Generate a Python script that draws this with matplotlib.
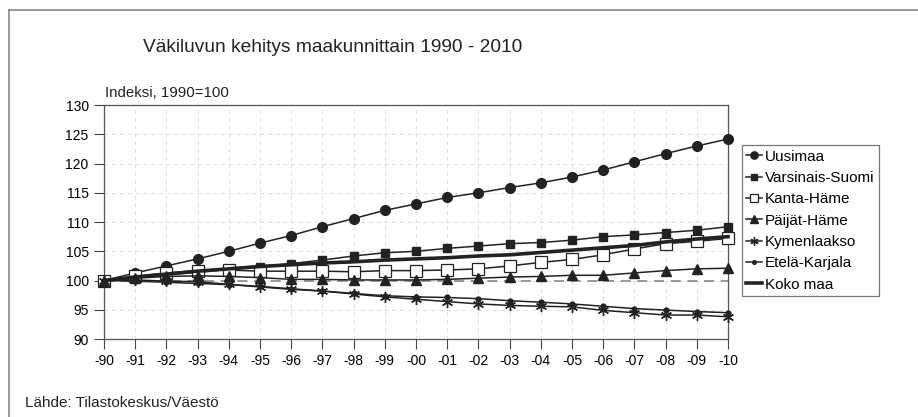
import numpy as np
import matplotlib
matplotlib.use('Agg')
import matplotlib.pyplot as plt
from matplotlib.lines import Line2D

plt.rcParams['font.family'] = ['Liberation Sans', 'DejaVu Sans']

# data (index, 1990=100)
years = ['-90', '-91', '-92', '-93', '-94', '-95', '-96', '-97', '-98', '-99',
         '-00', '-01', '-02', '-03', '-04', '-05', '-06', '-07', '-08', '-09', '-10']
uusimaa = [100, 101.3, 102.5, 103.7, 105.0, 106.4, 107.7, 109.2, 110.6, 112.0,
           113.1, 114.2, 115.0, 115.9, 116.7, 117.7, 118.9, 120.3, 121.7, 123.0, 124.2]
varsinais = [100, 100.5, 101.0, 101.4, 101.9, 102.4, 102.9, 103.5, 104.2, 104.75,
             105.0, 105.5, 105.9, 106.3, 106.5, 106.9, 107.5, 107.8, 108.2, 108.6, 109.2]
kanta = [100, 100.7, 101.3, 101.7, 101.8, 101.6, 101.6, 101.6, 101.5, 101.7,
         101.7, 101.8, 102.0, 102.5, 103.1, 103.6, 104.4, 105.4, 106.3, 106.7, 107.2]
paijat = [100, 100.4, 100.7, 100.8, 100.7, 100.5, 100.2, 100.2, 100.1, 100.1,
          100.1, 100.2, 100.4, 100.6, 100.7, 100.9, 100.9, 101.3, 101.7, 102.0, 102.1]
kymen = [100, 100.1, 99.9, 99.8, 99.35, 98.9, 98.5, 98.2, 97.7, 97.2,
         96.8, 96.4, 96.0, 95.75, 95.6, 95.5, 94.9, 94.5, 94.1, 94.1, 93.8]
etela = [100, 99.9, 99.7, 99.5, 99.3, 99.0, 98.6, 98.2, 97.8, 97.4,
         97.2, 97.1, 96.9, 96.55, 96.3, 96.0, 95.6, 95.2, 94.95, 94.7, 94.5]
koko = [100, 100.6, 101.1, 101.6, 102.0, 102.4, 102.7, 103.0, 103.2, 103.5,
        103.7, 103.9, 104.2, 104.4, 104.8, 105.2, 105.6, 106.0, 106.6, 107.1, 107.5]

fig = plt.figure(figsize=(9.18, 4.17), dpi=100)
ax = fig.add_axes([0.1133, 0.187, 0.6797, 0.561])

x = np.arange(len(years))
lc = '#222222'

# reference line at 100
ax.plot(x, [100] * len(x), color='#888888', ls=(0, (6, 4)), lw=1.2, zorder=2)

series = [
    (uusimaa, 'Uusimaa', dict(marker='o', ms=7, mfc=lc, mec=lc, lw=1.1)),
    (varsinais, 'Varsinais-Suomi', dict(marker='s', ms=5.5, mfc=lc, mec=lc, lw=1.1)),
    (kanta, 'Kanta-Häme', dict(marker='s', ms=8, mfc='white', mec=lc, mew=0.9, lw=1.1)),
    (paijat, 'Päijät-Häme', dict(marker='^', ms=7, mfc=lc, mec=lc, lw=1.1)),
    (kymen, 'Kymenlaakso', dict(marker=(6, 2, 0), ms=8, mfc=lc, mec=lc, mew=1.0, lw=1.1)),
    (etela, 'Etelä-Karjala', dict(marker='o', ms=3.5, mfc=lc, mec=lc, lw=1.1)),
    (koko, 'Koko maa', dict(lw=2.6)),
]
handles = []
for vals, name, kw in series:
    ln, = ax.plot(x, vals, color=lc, clip_on=False, zorder=3, label=name, **kw)
    handles.append(ln)

ax.set_xlim(0, 20)
ax.set_ylim(90, 130)
ax.set_yticks(np.arange(90, 131, 5))
ax.set_xticks(x)
ax.set_xticklabels(years)
ax.tick_params(direction='out', length=7, width=0.8, color='#444444',
               labelsize=10, pad=4)
ax.grid(True, color='#dddddd', ls=(0, (4, 4)), lw=0.7)
ax.set_axisbelow(True)
for s in ax.spines.values():
    s.set_color('#555555')
    s.set_linewidth(0.9)

fig.text(0.362, 0.885, 'Väkiluvun kehitys maakunnittain 1990 - 2010',
         ha='center', va='center', fontsize=13.8, color='#222222')
fig.text(0.114, 0.777, 'Indeksi, 1990=100', ha='left', va='center',
         fontsize=10.8, color='#222222')
fig.text(0.027, 0.034, 'Lähde: Tilastokeskus/Väestö', ha='left', va='center',
         fontsize=11, color='#222222')

leg = fig.legend(handles=handles, loc='upper left',
                 bbox_to_anchor=(0.808, 0.652), frameon=True, fancybox=False,
                 fontsize=11, handlelength=1.0, handletextpad=0.2,
                 labelspacing=0.48, borderpad=0.3, borderaxespad=0,
                 markerscale=0.75)
leg.get_frame().set_edgecolor('#555555')
leg.get_frame().set_linewidth(0.9)

# outer frame of the original graphic
fig.add_artist(Line2D([0.010, 0.010], [0.0, 0.976], color='#888888', lw=1.2))
fig.add_artist(Line2D([0.010, 1.0], [0.976, 0.976], color='#888888', lw=1.2))

fig.savefig('out.png', dpi=100)
